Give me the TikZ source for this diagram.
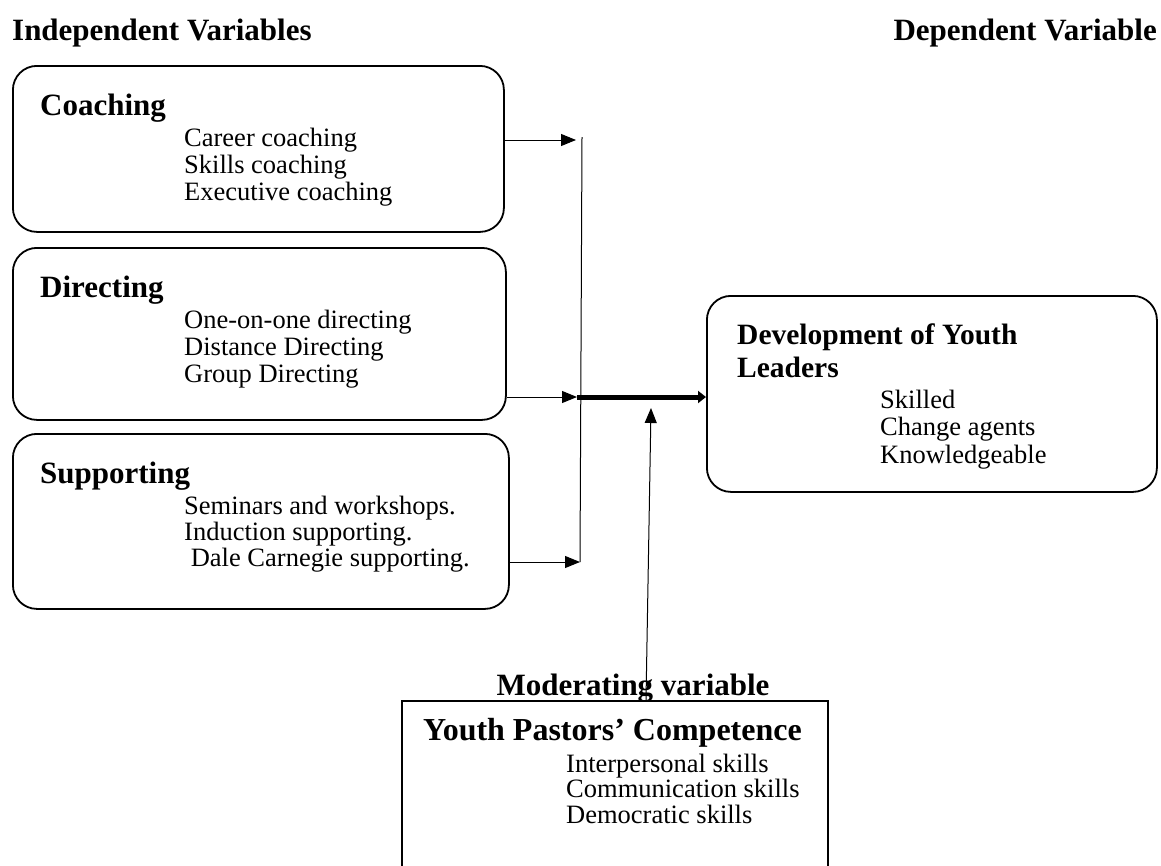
\documentclass[tikz,border=0pt]{standalone}
\usepackage{fontspec}
\setmainfont{Liberation Serif}
\usetikzlibrary{arrows.meta}

\tikzset{
  box/.style={draw, line width=1.8pt, rounded corners=24pt, anchor=north west, inner sep=0pt},
  head/.style={anchor=base west, inner sep=0pt, font=\bfseries\fontsize{31}{34}\selectfont},
  item/.style={anchor=base west, inner sep=0pt, font=\fontsize{26.5}{28}\selectfont},
  arr/.style={-{Triangle[length=15pt,width=12pt]}, line width=1pt},
  thickarr/.style={-{Triangle[length=8pt,width=12pt]}, line width=5pt}
}

\begin{document}
\begin{tikzpicture}[x=1pt,y=-1pt]
\clip (0,0) rectangle (1161,865);
\useasboundingbox (0,0) rectangle (1161,865);

% column titles
\node[head] (indep) at (12,40) {Independent Variables};
\node[head, anchor=base east] (dep) at (1157,40) {Dependent Variable};

% independent variables
\node[box, minimum width=491pt, minimum height=166pt] (coach) at (12,65) {};
\node[head] (coachh) at (40,115) {Coaching};
\foreach \t [count=\i] in {Career coaching, Skills coaching, Executive coaching}{
\node[item] (coach\i) at (184,{146+(\i-1)*27}) {\t};
}

\node[box, minimum width=493pt, minimum height=172pt] (direct) at (12,247) {};
\node[head] (directh) at (40,297) {Directing};
\foreach \t [count=\i] in {One-on-one directing, Distance Directing, Group Directing}{
\node[item] (direct\i) at (184,{328+(\i-1)*27}) {\t};
}

\node[box, minimum width=496pt, minimum height=175pt] (support) at (12,433) {};
\node[head] (supporth) at (40,483) {Supporting};
\foreach \t [count=\i] in {Seminars and workshops., Induction supporting., {\ Dale Carnegie supporting.}}{
\node[item] (support\i) at (184,{514+(\i-1)*26}) {\t};
}

% dependent variable
\node[box, minimum width=450pt, minimum height=196pt] (devel) at (706,295) {};
\node[head, font=\bfseries\fontsize{29.5}{33}\selectfont] (develh) at (737,344) {Development of Youth};
\node[head, font=\bfseries\fontsize{29.5}{33}\selectfont] (develh2) at (737,377) {Leaders};
\foreach \t [count=\i] in {Skilled, Change agents, Knowledgeable}{
\node[item] (devel\i) at (880,{408+(\i-1)*27.5}) {\t};
}

% moderating variable
\node[head, anchor=base] (modh) at (633,695) {Moderating variable};
\node[draw, line width=1.8pt, anchor=north west, inner sep=0pt,
  minimum width=426pt, minimum height=190pt] (youth) at (401,700) {};
\node[head, font=\bfseries\fontsize{32}{35}\selectfont] (youthh) at (423,740) {Youth Pastors’ Competence};
\foreach \t [count=\i] in {Interpersonal skills, Communication skills, Democratic skills}{
\node[item] (youth\i) at (566,{772+(\i-1)*25.5}) {\t};
}

% connectors
\coordinate (tipC) at (576,140);
\coordinate (tipD) at (577,397);
\coordinate (tipS) at (580,562);
\coordinate (bartop) at (582,137);
\coordinate (modfoot) at (646,700);
\coordinate (modtip) at (651,408);
\draw[line width=1pt] (bartop) -- (tipS);
\draw[arr] (coach.east |- tipC) -- (tipC);
\draw[arr] (direct.east |- tipD) -- (tipD);
\draw[arr] (support.east |- tipS) -- (tipS);
\draw[thickarr] (tipD) -- (devel.west |- tipD);
\draw[arr] (modfoot) -- (modtip);
\end{tikzpicture}
\end{document}
